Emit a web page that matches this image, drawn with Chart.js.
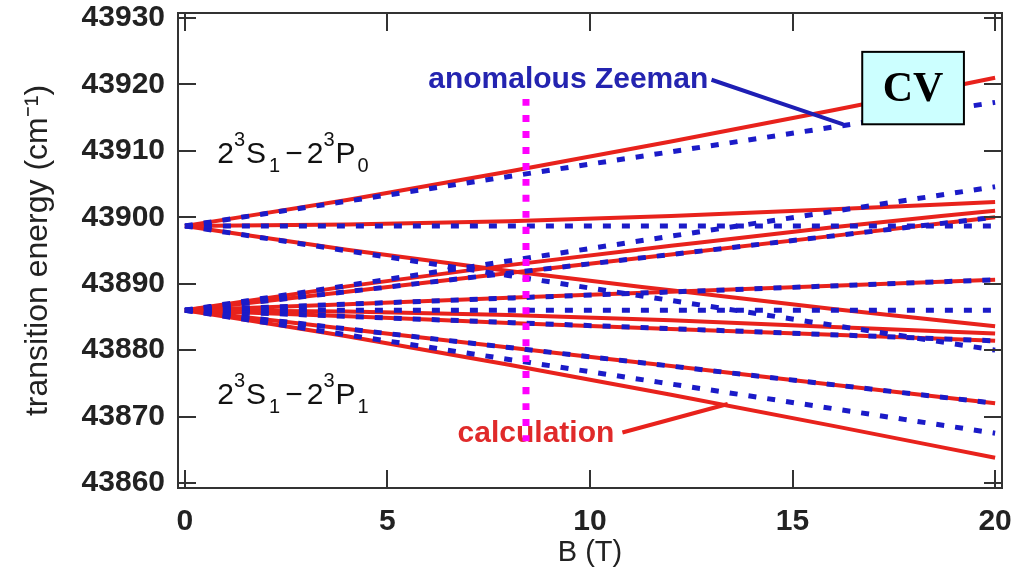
<!DOCTYPE html>
<html>
<head>
<meta charset="utf-8">
<script src="https://cdn.jsdelivr.net/npm/chart.js@4.4.1/dist/chart.umd.min.js"></script>
<style>
  html, body { margin: 0; padding: 0; background: #fff; }
  #wrap { width: 1016px; height: 576px; position: relative; }
</style>
</head>
<body>
<div id="wrap"><canvas id="zeemanChart"></canvas></div>
<script>
// magnetic field B (T) where values were read
const zeemanB = [0, 20];
const calcB = [0, 4, 8, 12, 16, 20];

// anomalous Zeeman (blue dashed), value at B = 0 and B = 20
const zeemanP0 = [
  [43898.7, 43917.3],
  [43898.7, 43898.7],
  [43898.7, 43880.0]
];
const zeemanP1 = [
  [43886.0, 43904.6],
  [43886.0, 43900.0],
  [43886.0, 43890.6],
  [43886.0, 43886.0],
  [43886.0, 43881.4],
  [43886.0, 43872.0],
  [43886.0, 43867.5]
];

// calculation (red solid), values at calcB
const calcP0 = [
  [43898.7, 43902.6, 43906.9, 43911.4, 43916.1, 43921.0],
  [43898.7, 43898.9, 43899.4, 43900.2, 43901.2, 43902.3],
  [43898.7, 43895.1, 43891.9, 43889.0, 43886.2, 43883.6]
];
const calcP1 = [
  [43886.0, 43889.6, 43892.8, 43895.7, 43898.5, 43901.0],
  [43886.0, 43888.8, 43891.6, 43894.4, 43897.2, 43900.0],
  [43886.0, 43886.9, 43887.9, 43888.8, 43889.7, 43890.6],
  [43886.0, 43885.8, 43885.3, 43884.5, 43883.5, 43882.5],
  [43886.0, 43885.1, 43884.1, 43883.2, 43882.3, 43881.4],
  [43886.0, 43883.2, 43880.4, 43877.6, 43874.8, 43872.0],
  [43886.0, 43882.1, 43877.8, 43873.3, 43868.6, 43863.8]
];

const xTicks = [0, 5, 10, 15, 20];
const yTicks = [43860, 43870, 43880, 43890, 43900, 43910, 43920, 43930];

// magenta marker and the two pointer lines
const markerB = [8.42, 8.42];
const markerE = [43917.8, 43866.3];
const zeemanPtrB = [13.0, 16.25];
const zeemanPtrE = [43920.7, 43914.0];
const calcPtrB = [10.8, 13.4];
const calcPtrE = [43867.6, 43871.9];

const RED = '#e8221c';
const BLUE = '#1b1bc8';
const FONT = '"Liberation Sans", Arial, sans-serif';

const line = (xs, ys, color, width, dash, order) => ({
  data: xs.map((x, i) => ({ x: x, y: ys[i] })),
  borderColor: color,
  borderWidth: width,
  borderDash: dash,
  borderCapStyle: 'butt',
  pointRadius: 0,
  fill: false,
  order: order,
  cubicInterpolationMode: 'monotone'
});

const datasets = [];
calcP0.concat(calcP1).forEach(ys => datasets.push(line(calcB, ys, RED, 4, [], 3)));
zeemanP0.concat(zeemanP1).forEach(ys => datasets.push(line(zeemanB, ys, BLUE, 5, [8, 11], 2)));
datasets.push(line(markerB, markerE, '#ff00ff', 7, [7, 9], 1));
datasets.push(line(zeemanPtrB, zeemanPtrE, '#1e1eb4', 4, [], 1));
datasets.push(line(calcPtrB, calcPtrE, RED, 4, [], 1));

// 2^3S_1 - 2^3P_J style term labels: [text, kind, extra gap after]
function drawTerm(ctx, x, y, parts) {
  parts.forEach(p => {
    const small = p[1] !== 'n';
    ctx.font = (small ? '20px ' : '30px ') + FONT;
    const dy = p[1] === 'sup' ? -17 : p[1] === 'sub' ? 9 : 0;
    ctx.fillText(p[0], x, y + dy);
    x += ctx.measureText(p[0]).width + (p[2] || 0);
  });
}
const termP0 = [['2', 'n'], ['3', 'sup', 1], ['S', 'n', 3], ['1', 'sub', 5], ['\u2212', 'n', 4],
                ['2', 'n'], ['3', 'sup', 1], ['P', 'n', 2], ['0', 'sub']];
const termP1 = [['2', 'n'], ['3', 'sup', 1], ['S', 'n', 3], ['1', 'sub', 5], ['\u2212', 'n', 4],
                ['2', 'n'], ['3', 'sup', 1], ['P', 'n', 2], ['1', 'sub']];

const textLayer = {
  id: 'textLayer',
  beforeDatasetsDraw(chart) {
    const { ctx, scales: { x, y } } = chart;
    ctx.save();
    ctx.fillStyle = '#111';
    ctx.textBaseline = 'alphabetic';
    ctx.textAlign = 'left';
    drawTerm(ctx, x.getPixelForValue(0.8), y.getPixelForValue(43908.1), termP0);
    drawTerm(ctx, x.getPixelForValue(0.8), y.getPixelForValue(43871.9), termP1);

    ctx.textBaseline = 'middle';
    ctx.textAlign = 'right';
    ctx.font = 'bold 30px ' + FONT;
    ctx.fillStyle = '#2424b0';
    ctx.fillText('anomalous Zeeman', x.getPixelForValue(12.92), y.getPixelForValue(43920.7));
    ctx.fillStyle = '#e02a2a';
    ctx.fillText('calculation', x.getPixelForValue(10.6), y.getPixelForValue(43867.4));
    ctx.restore();
  },
  afterDraw(chart) {
    const { ctx, chartArea: a, scales: { x, y } } = chart;
    ctx.save();
    ctx.strokeStyle = '#333';
    ctx.lineWidth = 2;
    ctx.strokeRect(a.left, a.top, a.right - a.left, a.bottom - a.top);
    ctx.beginPath();
    x.ticks.forEach(t => {
      const px = Math.round(x.getPixelForValue(t.value));
      ctx.moveTo(px, a.bottom); ctx.lineTo(px, a.bottom - 18);
      ctx.moveTo(px, a.top); ctx.lineTo(px, a.top + 18);
    });
    y.ticks.forEach(t => {
      const py = Math.round(y.getPixelForValue(t.value));
      ctx.moveTo(a.left, py); ctx.lineTo(a.left + 18, py);
      ctx.moveTo(a.right, py); ctx.lineTo(a.right - 18, py);
    });
    ctx.stroke();

    // "CV" box
    const bx0 = x.getPixelForValue(16.72), bx1 = x.getPixelForValue(19.23);
    const by0 = y.getPixelForValue(43924.9), by1 = y.getPixelForValue(43914.0);
    ctx.fillStyle = '#ccffff';
    ctx.fillRect(bx0, by0, bx1 - bx0, by1 - by0);
    ctx.strokeStyle = '#000';
    ctx.strokeRect(bx0, by0, bx1 - bx0, by1 - by0);
    ctx.fillStyle = '#000';
    ctx.font = 'bold 42px "Liberation Serif", "Times New Roman", serif';
    ctx.textAlign = 'center';
    ctx.textBaseline = 'middle';
    ctx.fillText('CV', (bx0 + bx1) / 2, (by0 + by1) / 2 + 2);
    ctx.restore();
  }
};

new Chart(document.getElementById('zeemanChart'), {
  type: 'line',
  data: { datasets: datasets },
  options: {
    responsive: true,
    maintainAspectRatio: false,
    animation: false,
    devicePixelRatio: 1,
    layout: { padding: { top: 13, right: 14, left: 0, bottom: 0 } },
    plugins: { legend: { display: false }, tooltip: { enabled: false } },
    scales: {
      x: {
        type: 'linear',
        min: -0.17,
        max: 20.17,
        afterBuildTicks: s => { s.ticks = xTicks.map(v => ({ value: v })); },
        afterFit: s => { s.height = 88; s.paddingLeft = 0; s.paddingRight = 0; },
        grid: { display: false, drawTicks: false },
        border: { display: false },
        ticks: { padding: 16, color: '#222', font: { family: FONT, size: 30, weight: 'bold' },
                 callback: v => String(v) },
        title: { display: true, text: 'B (T)', color: '#222', padding: { top: 0, bottom: 6 },
                 font: { family: FONT, size: 29 } }
      },
      y: {
        type: 'linear',
        min: 43859.25,
        max: 43930.75,
        afterBuildTicks: s => { s.ticks = yTicks.map(v => ({ value: v })); },
        afterFit: s => { s.width = 178; s.paddingTop = 0; s.paddingBottom = 0; },
        grid: { display: false, drawTicks: false },
        border: { display: false },
        ticks: { padding: 13, color: '#222', font: { family: FONT, size: 30, weight: 'bold' },
                 callback: v => String(v) },
        title: { display: true, text: 'transition energy (cm\u207B\u00B9)', color: '#222',
                 padding: { top: 19, bottom: 0 }, font: { family: FONT, size: 32 } }
      }
    }
  },
  plugins: [textLayer]
});
</script>
</body>
</html>
